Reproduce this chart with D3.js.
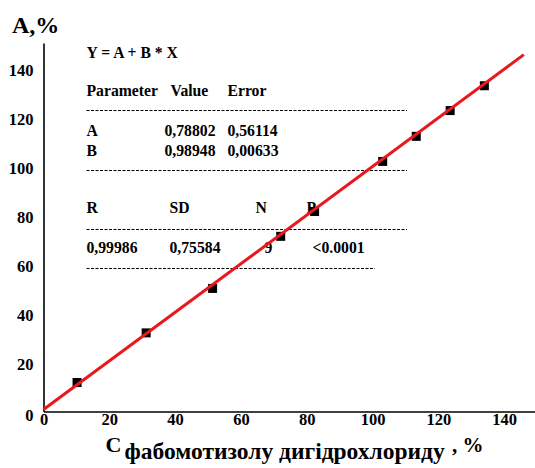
<!DOCTYPE html>
<html>
<head>
<meta charset="utf-8">
<script src="https://cdn.jsdelivr.net/npm/d3@7"></script>
<style>
  body { margin: 0; background: #fff; }
  text { font-family: "Liberation Serif", "Times New Roman", serif; font-weight: bold; fill: #000; }
</style>
</head>
<body>
<svg></svg>
<script>
// data
const concX = [10.2, 31.2, 51.4, 72.1, 82.4, 103.1, 113.3, 123.6, 134.0];
const foundY = [11.8, 32.0, 50.1, 71.3, 81.4, 101.8, 112.0, 122.5, 132.6];
const xTicks = [0, 20, 40, 60, 80, 100, 120, 140];
const yTicks = [0, 20, 40, 60, 80, 100, 120, 140];
const fitA = 0.78802;
const fitB = 0.98948;
const fitRange = [0, 146];

// fit report rows: [text, x offset]; null = dashed rule
const reportRows = [
  [["Y = A + B * X", 0]],
  [["Parameter", 0], ["Value", 84], ["Error", 141]],
  null,
  [["A", 0], ["0,78802", 78], ["0,56114", 141]],
  [["B", 0], ["0,98948", 78], ["0,00633", 141]],
  null,
  [["R", 0], ["SD", 83], ["N", 169], ["P", 220]],
  null,
  [["0,99986", 0], ["0,75584", 83], ["9", 178], ["<0.0001", 226]],
  null
];
const rowY = [58, 96, 110.5, 135.5, 155.5, 170.5, 213, 229.5, 253, 268.5];
const dashEnds = [407, 407, 407, 375];

const width = 535;
const height = 468;
const svg = d3.select("svg").attr("width", width).attr("height", height);

const x = d3.scaleLinear().domain([0, 150]).range([43.5, 537]);
const y = d3.scaleLinear().domain([0, 150]).range([411.5, 43]);

// axes (no tick marks)
const xAxis = d3.axisBottom(x).tickValues(xTicks).tickSize(0).tickPadding(2);
const yAxis = d3.axisLeft(y).tickValues(yTicks).tickSize(0).tickPadding(10);

const xAxisG = svg.append("g").attr("transform", `translate(0, ${y(0)})`).call(xAxis);
const yAxisG = svg.append("g").attr("transform", `translate(${x(0)}, 0)`).call(yAxis);
[xAxisG, yAxisG].forEach((g) => {
  g.select(".domain").attr("stroke", "#000").attr("stroke-width", 1.6);
  g.selectAll(".tick text")
    .attr("font-size", 16.5)
    .attr("fill", "#000");
});
xAxisG.selectAll(".tick text").attr("dy", "0.71em");
yAxisG.selectAll(".tick text").attr("dy", "0.45em");
yAxisG.select(".tick text").attr("dy", "0.53em");

// points
svg.append("g").selectAll("rect")
  .data(concX)
  .join("rect")
  .attr("x", (d) => x(d) - 4.5)
  .attr("y", (d, i) => y(foundY[i]) - 4.5)
  .attr("width", 9)
  .attr("height", 9)
  .attr("fill", "#000");

// report text
const rep = svg.append("g").attr("transform", "translate(86.5, 0)");
let dashIdx = 0;
reportRows.forEach((row, i) => {
  if (row === null) {
    rep.append("line")
      .attr("x1", 0).attr("x2", dashEnds[dashIdx++] - 86.5)
      .attr("y1", rowY[i]).attr("y2", rowY[i])
      .attr("stroke", "#000").attr("stroke-width", 1.2)
      .attr("stroke-dasharray", "3,1.5");
  } else {
    row.forEach(([t, dx]) => {
      rep.append("text").attr("x", dx).attr("y", rowY[i])
        .attr("font-size", 15.7).text(t);
    });
  }
});

// regression line
const line = d3.line().x((d) => x(d)).y((d) => y(fitA + fitB * d));
svg.append("path")
  .attr("d", line(fitRange))
  .attr("fill", "none")
  .attr("stroke", "#e8181e")
  .attr("stroke-width", 3);

// axis titles
svg.append("text").attr("x", 12).attr("y", 33).attr("font-size", 24).text("A,%");

svg.append("text").attr("x", 105.5).attr("y", 452).attr("font-size", 22).text("C");
svg.append("text").attr("x", 124.5).attr("y", 459).attr("font-size", 23.5)
  .text("фабомотизолу дигідрохлориду");
svg.append("text").attr("x", 452).attr("y", 452).attr("font-size", 21).text(", %");
</script>
</body>
</html>
